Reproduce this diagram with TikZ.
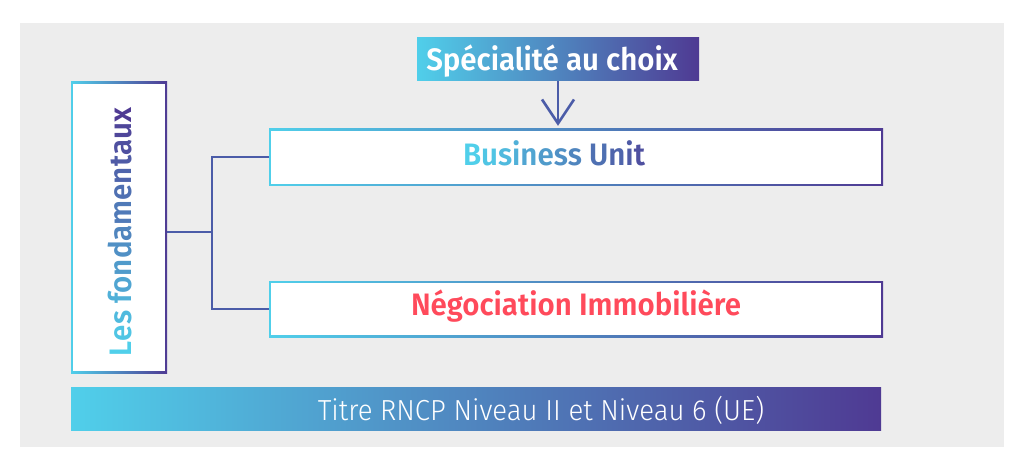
\documentclass[tikz,border=0pt]{standalone}
\usepackage{fontspec}
\setmainfont{Fira Sans}[FakeStretch=0.95, BoldFont={Fira Sans SemiBold}]
\newfontfamily\lightfont{Fira Sans Light}[FakeStretch=0.95]
\usetikzlibrary{arrows.meta, positioning}
\definecolor{brightcyan}{HTML}{50CFEA}
\definecolor{deeppurple}{HTML}{4F3A93}
\definecolor{linkblue}{HTML}{4B5CA8}
\definecolor{panelgrey}{HTML}{EDEDED}
\definecolor{coralred}{HTML}{FF4A5B}
\newcommand{\gl}[2]{\textcolor{deeppurple!#1!brightcyan}{#2}}

\begin{document}
\begin{tikzpicture}[x=1pt, y=-1pt,
  gframe/.style={inner sep=0pt, left color=brightcyan, right color=deeppurple,
    path picture={\fill[white] ([shift={(2.2pt,-2.2pt)}]path picture bounding box.north west)
      rectangle ([shift={(-2.2pt,2.2pt)}]path picture bounding box.south east);}},
  band/.style={inner sep=0pt, left color=brightcyan, right color=deeppurple},
  big/.style={font=\fontsize{31}{37}\selectfont\bfseries},
  link/.style={draw=linkblue, line width=2pt}
]
  \fill[white] (0,0) rectangle (1024,470);
  \useasboundingbox (0,0) rectangle (1024,470);
  % Panel
  \fill[panelgrey] (20,23) rectangle (1004,447);

  % Specialite
  \node[band, minimum width=282pt, minimum height=43pt] (spec) at (558,59.5) {};
  \node[big, text=white, anchor=base] (spectxt) at (552,71) {Spécialité au choix};

  % Fondamentaux
  \node[gframe, minimum width=96pt, minimum height=291pt] (fond) at (119,227.5) {};
  \node[big, rotate=90, anchor=base] (fondtxt) at (131,232)
    {\gl{0}{L}\gl{7}{e}\gl{14}{s} \gl{21}{f}\gl{28}{o}\gl{35}{n}\gl{42}{d}\gl{50}{a}\gl{57}{m}\gl{64}{e}\gl{71}{n}\gl{78}{t}\gl{85}{a}\gl{92}{u}\gl{100}{x}};

  % Business Unit
  \node[gframe, minimum width=614pt, minimum height=57pt] (bu) at (576,157.5) {};
  \node[big, anchor=base] (butxt) at (554,166)
    {\gl{0}{B}\gl{7}{u}\gl{14}{s}\gl{21}{i}\gl{28}{n}\gl{35}{e}\gl{42}{s}\gl{50}{s} \gl{64}{U}\gl{71}{n}\gl{78}{i}\gl{85}{t}};

  % Negociation
  \node[gframe, minimum width=614pt, minimum height=56pt] (neg) at (576,309) {};
  \node[big, text=coralred, anchor=base] (negtxt) at (576,315) {Négociation Immobilière};

  % Titre
  \node[band, minimum width=810pt, minimum height=43pt] (titre) at (476,408.5) {};
  \node[font=\lightfont\fontsize{29}{34}\selectfont, text=white, anchor=base] (titretxt) at (541,420)
    {Titre RNCP Niveau II et Niveau 6 (UE)};

  % Connectors
  \coordinate (fork) at (212,232);
  \draw[link] (fond.east |- fork) -- (fork);
  \draw[link] (fork) |- (bu.west);
  \draw[link] (fork) |- (neg.west);
  \draw[link, line width=2.6pt, shorten >=3pt, -{Straight Barb[length=24pt, width=32pt]}] (spec.south) -- (spec.south |- bu.north);
\end{tikzpicture}
\end{document}
